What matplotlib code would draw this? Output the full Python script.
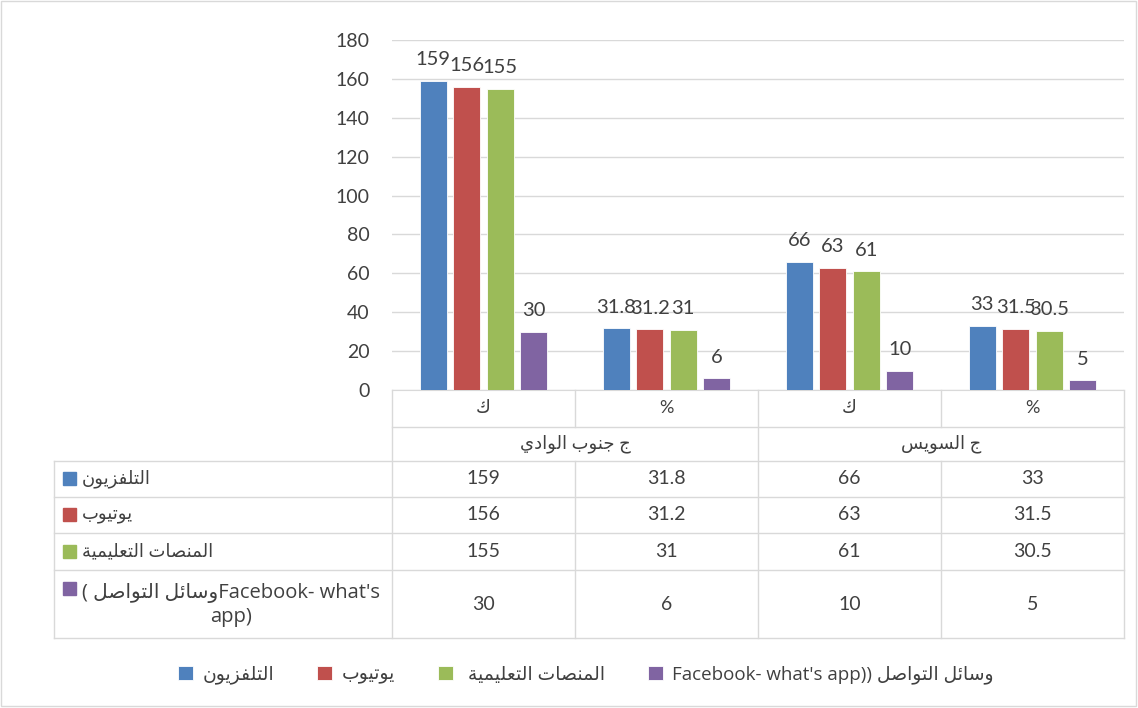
import matplotlib
matplotlib.use("Agg")
import matplotlib.pyplot as plt
from matplotlib.patches import Rectangle
import numpy as np

plt.rcParams["font.family"] = ["Lato", "DejaVu Sans"]

# --- data (logical order Arabic text)
subcats = ["ك", "%", "ك", "%"]
groups = ["ج جنوب الوادي", "ج السويس"]
series_names = ["التلفزيون", "يوتيوب", "المنصات التعليمية", "وسائل التواصل"]
tv = [159, 31.8, 66, 33]
youtube = [156, 31.2, 63, 31.5]
platforms = [155, 31, 61, 30.5]
social = [30, 6, 10, 5]
colors = ["#4f81bd", "#c0504d", "#9bbb59", "#8064a2"]

# --- minimal Arabic shaping (presentation forms) + visual reversal
FORMS = {
    "ا": (0xFE8D, 0xFE8E, None, None),
    "ئ": (0xFE89, 0xFE8A, 0xFE8B, 0xFE8C),
    "ب": (0xFE8F, 0xFE90, 0xFE91, 0xFE92),
    "ة": (0xFE93, 0xFE94, None, None),
    "ت": (0xFE95, 0xFE96, 0xFE97, 0xFE98),
    "ج": (0xFE9D, 0xFE9E, 0xFE9F, 0xFEA0),
    "د": (0xFEA9, 0xFEAA, None, None),
    "ز": (0xFEAF, 0xFEB0, None, None),
    "س": (0xFEB1, 0xFEB2, 0xFEB3, 0xFEB4),
    "ص": (0xFEB9, 0xFEBA, 0xFEBB, 0xFEBC),
    "ع": (0xFEC9, 0xFECA, 0xFECB, 0xFECC),
    "ف": (0xFED1, 0xFED2, 0xFED3, 0xFED4),
    "ك": (0xFED9, 0xFEDA, 0xFEDB, 0xFEDC),
    "ل": (0xFEDD, 0xFEDE, 0xFEDF, 0xFEE0),
    "م": (0xFEE1, 0xFEE2, 0xFEE3, 0xFEE4),
    "ن": (0xFEE5, 0xFEE6, 0xFEE7, 0xFEE8),
    "و": (0xFEED, 0xFEEE, None, None),
    "ي": (0xFEF1, 0xFEF2, 0xFEF3, 0xFEF4),
}


def ar(s):
    out = []
    for i, ch in enumerate(s):
        if ch not in FORMS:
            out.append(ch)
            continue
        prev = s[i - 1] if i > 0 else ""
        nxt = s[i + 1] if i + 1 < len(s) else ""
        jp = prev in FORMS and FORMS[prev][2] is not None
        jn = FORMS[ch][2] is not None and nxt in FORMS
        iso, fin, ini, med = FORMS[ch]
        if jp and jn:
            c = med
        elif jp:
            c = fin
        elif jn:
            c = ini
        else:
            c = iso
        out.append(chr(c))
    return "".join(out)[::-1]


legend_labels = [ar(series_names[0]), ar(series_names[1]), " " + ar(series_names[2]),
                 "Facebook- what's app)) " + ar(series_names[3])]
row_labels = [ar(series_names[0]), ar(series_names[1]), ar(series_names[2]),
              "( " + ar(series_names[3]) + "Facebook- what's\napp)"]

W, H = 1138, 708
TXT = "#404040"
GRID = "#d9d9d9"
MIXED = ["Open Sans", "DejaVu Sans"]

fig = plt.figure(figsize=(W / 100, H / 100), dpi=100)

# overlay in pixel coords for the data table
ov = fig.add_axes([0, 0, 1, 1], zorder=0)
ov.set_xlim(0, W)
ov.set_ylim(H, 0)
ov.axis("off")

ax = fig.add_axes([392 / W, 1 - 390 / H, (1124 - 392) / W, 350 / H], zorder=1)
ax.patch.set_alpha(0)

all_series = [tv, youtube, platforms, social]
x = np.arange(len(subcats))
width = 0.148
step = 0.183
handles = []
for i, vals in enumerate(all_series):
    b = ax.bar(x + (i - 1.5) * step, vals, width, color=colors[i],
               edgecolor="white", linewidth=0.6, zorder=3)
    ax.bar_label(b, labels=[f"{v:g}" for v in vals], padding=9,
                 fontsize=14.5, color=TXT)
    handles.append(b)

ax.set_xlim(-0.5, 3.5)
ax.set_ylim(0, 180)
ax.set_yticks(range(0, 181, 20))
ax.yaxis.grid(True, color=GRID, linewidth=1, zorder=0)
ax.set_axisbelow(True)
ax.tick_params(axis="y", length=0, labelsize=14, labelcolor=TXT, pad=16)
ax.set_xticks([])
for s in ["left", "right", "top"]:
    ax.spines[s].set_visible(False)
ax.spines["bottom"].set_color(GRID)

# --- table lines
cols = [392, 575, 758, 941, 1124]
rows = [461, 497, 533, 570, 638]
lk = dict(color=GRID, linewidth=1)
for cx in [392, 758, 1124]:
    ov.plot([cx, cx], [390, 638], **lk)
for cx in [575, 941]:
    ov.plot([cx, cx], [390, 427], **lk)
    ov.plot([cx, cx], [461, 638], **lk)
ov.plot([54, 54], [461, 638], **lk)
ov.plot([392, 1124], [427, 427], **lk)
for ry in rows:
    ov.plot([54, 1124], [ry, ry], **lk)

# header texts
for j, lab in enumerate(subcats):
    ov.text((cols[j] + cols[j + 1]) / 2, 408, ar(lab), ha="center", va="center",
            fontsize=13, color=TXT)
for g, lab in enumerate(groups):
    ov.text((cols[2 * g] + cols[2 * g + 2]) / 2, 444, ar(lab), ha="center",
            va="center", fontsize=13, color=TXT)

# body
for i, vals in enumerate(all_series):
    yc = (rows[i] + rows[i + 1]) / 2
    for j, v in enumerate(vals):
        ov.text((cols[j] + cols[j + 1]) / 2, yc, f"{v:g}", ha="center",
                va="center", fontsize=14, color=TXT)
    ytop = rows[i] + 19 if i == 3 else yc
    ov.add_patch(Rectangle((63, ytop - 7), 13, 13, color=colors[i]))
    if i < 3:
        ov.text(82, yc, row_labels[i], ha="left", va="center", fontsize=13,
                color=TXT)
    else:
        ov.text(82, yc + 1, row_labels[i], ha="left", va="center", fontsize=14.5,
                color=TXT, multialignment="center", linespacing=1.25,
                family=MIXED)

# chart border
ov.add_patch(Rectangle((1, 1), W - 3, H - 3, fill=False, edgecolor=GRID, lw=1))

fig.legend(handles, legend_labels, loc="center", bbox_to_anchor=(586 / W, 1 - 675 / H),
           ncol=4, frameon=False, prop=dict(family=MIXED, size=13.5), labelcolor=TXT,
           handlelength=0.8, handleheight=0.8, handletextpad=0.5, columnspacing=2.3)

fig.savefig("out.png", dpi=100)
